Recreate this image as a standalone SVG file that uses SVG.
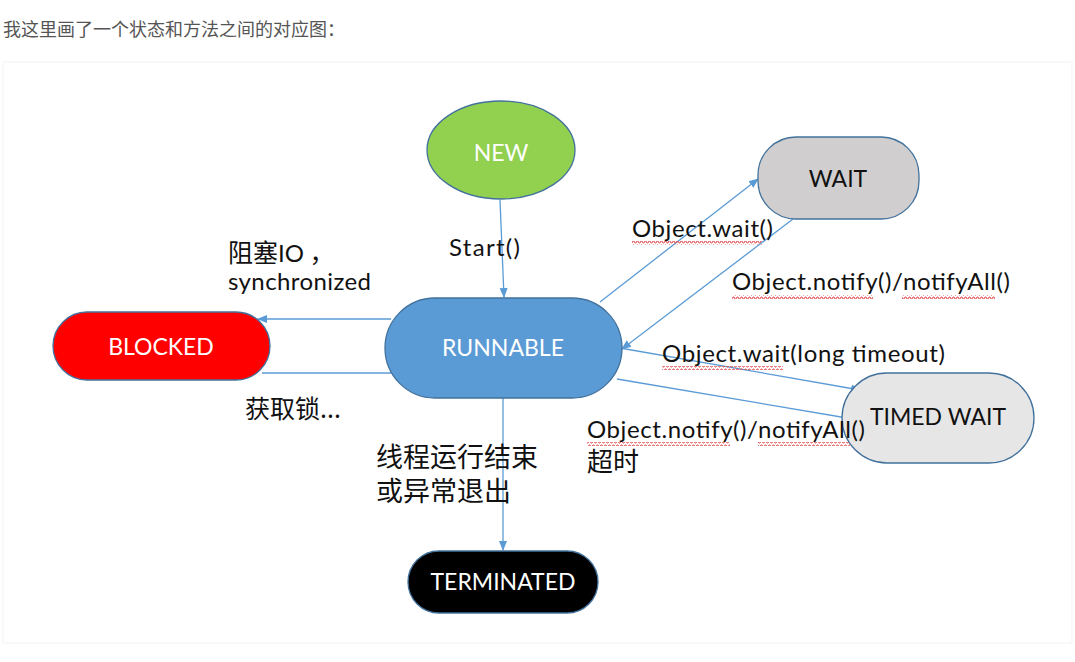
<svg xmlns="http://www.w3.org/2000/svg" width="1075" height="662" viewBox="0 0 1075 662">
<style>
.lbl{font-family:Lato,"Noto Sans CJK SC",sans-serif;font-size:24px;fill:#111}
.cjk{font-family:"Noto Sans CJK SC",sans-serif;fill:#111}
.node{stroke:#41719c;stroke-width:1.3}
.ntxt{font-family:Lato,sans-serif;font-size:23px;text-anchor:middle}
.conn{stroke:#5b9bd5;stroke-width:1.3;fill:none}
.sq{fill:url(#sq)}
</style>
<defs>
<marker id="ah" markerWidth="10" markerHeight="10" refX="9" refY="5" orient="auto" markerUnits="userSpaceOnUse">
<path d="M0,1 L10,5 L0,9 Z" fill="#5b9bd5"/>
</marker>
<pattern id="sq" width="4" height="4" patternUnits="userSpaceOnUse">
<polyline points="0,3 1,1 2,1 3,3 4,3" fill="none" stroke="#e24a4a" stroke-width="1"/>
</pattern>
</defs>
<rect width="1075" height="662" fill="#ffffff"/>
<rect x="3" y="62" width="1069" height="581" fill="#ffffff" stroke="#f3f3f3" stroke-width="1"/>
<text x="3" y="36" font-family="'Noto Sans CJK SC',sans-serif" font-size="18" fill="#555">我这里画了一个状态和方法之间的对应图：</text>

<g id="connectors">
<line class="conn" x1="500" y1="200" x2="504" y2="297" marker-end="url(#ah)"/>
<line class="conn" x1="391" y1="319" x2="258" y2="319" marker-end="url(#ah)"/>
<line class="conn" x1="262" y1="373" x2="391" y2="373"/>
<line class="conn" x1="600" y1="302" x2="758" y2="179" marker-end="url(#ah)"/>
<line class="conn" x1="793" y1="219" x2="622" y2="349" marker-end="url(#ah)"/>
<line class="conn" x1="620" y1="348" x2="860" y2="390" marker-end="url(#ah)"/>
<line class="conn" x1="617" y1="379" x2="853" y2="419"/>
<line class="conn" x1="503" y1="398" x2="503" y2="550" marker-end="url(#ah)"/>
</g>

<g id="NEW">
<ellipse class="node" cx="501" cy="150" rx="74" ry="49" fill="#92d050"/>
<text class="ntxt" x="501" y="161" fill="#fff">NEW</text>
</g>
<g id="WAIT">
<rect class="node" x="758" y="137" width="161" height="82" rx="38" fill="#d0cece"/>
<text class="ntxt" x="838" y="187" fill="#111">WAIT</text>
</g>
<g id="RUNNABLE">
<rect class="node" x="385" y="298" width="237" height="100" rx="50" fill="#5b9bd5"/>
<text class="ntxt" x="503" y="356" fill="#fff">RUNNABLE</text>
</g>
<g id="BLOCKED">
<rect class="node" x="53" y="312" width="217" height="68" rx="34" fill="#ff0000"/>
<text class="ntxt" x="161" y="355" fill="#fff">BLOCKED</text>
</g>
<g id="TIMED_WAIT">
<rect class="node" x="842" y="373" width="192" height="90" rx="45" fill="#e7e6e6"/>
<text class="ntxt" x="938" y="425" fill="#111">TIMED WAIT</text>
</g>
<g id="TERMINATED">
<rect class="node" x="408" y="551" width="190" height="62" rx="31" fill="#000000"/>
<text class="ntxt" x="503" y="590" fill="#fff">TERMINATED</text>
</g>

<g id="labels">
<text class="lbl" x="449" y="256" textLength="71">Start()</text>
<text class="lbl" x="228" y="262"><tspan class="cjk" font-size="25">阻塞</tspan>IO<tspan class="cjk" font-size="25"> ，</tspan></text>
<text class="lbl" x="228" y="290" textLength="143">synchronized</text>
<text class="cjk" x="245" y="418" font-size="25">获取锁...</text>
<text class="cjk" x="376" y="467" font-size="27">线程运行结束</text>
<text class="cjk" x="376" y="501" font-size="27">或异常退出</text>
<text class="lbl" x="632" y="237" textLength="141">Object.wait()</text>
<text class="lbl" x="732" y="290" textLength="278">Object.notify()/notifyAll()</text>
<text class="lbl" x="662" y="362" textLength="283">Object.wait(long timeout)</text>
<text class="lbl" x="587" y="438" textLength="278">Object.notify()/notifyAll()</text>
<text class="cjk" x="587" y="471" font-size="26">超时</text>
</g>
<g id="squiggles">
<rect class="sq" x="632" y="241" width="130" height="4"/>
<rect class="sq" x="732" y="295" width="141" height="4"/>
<rect class="sq" x="902" y="295" width="93" height="4"/>
<rect class="sq" x="662" y="366" width="121" height="4"/>
<rect class="sq" x="587" y="442" width="143" height="4"/>
<rect class="sq" x="758" y="442" width="92" height="4"/>
</g>
</svg>
